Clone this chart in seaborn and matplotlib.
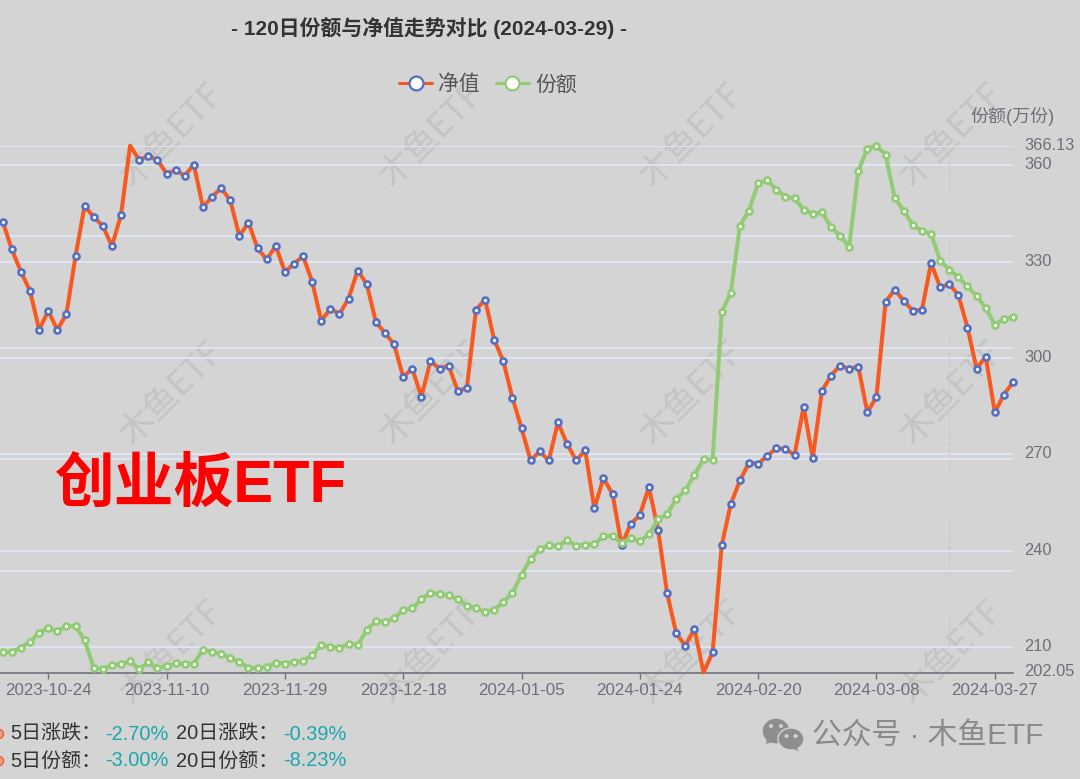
import matplotlib

matplotlib.use('Agg')

import matplotlib.pyplot as plt
from matplotlib.lines import Line2D
from matplotlib.patches import Ellipse, Polygon
from matplotlib.transforms import ScaledTranslation
import seaborn as sns
import pandas as pd

sns.set_theme(style='white')
plt.rcParams['font.family'] = ['Liberation Sans', 'Noto Sans CJK SC', 'DejaVu Sans']

BG = '#d4d4d4'
ORANGE = '#f65a20'
BLUE = '#5470c6'
GREEN = '#91cc75'
AXIS_GREY = '#6e7079'
GRID = '#e0e6f1'
W, H = 1080, 779

nav = [1.913, 1.888, 1.868, 1.851, 1.816, 1.833, 1.816, 1.830, 1.882, 1.927,
       1.917, 1.909, 1.891, 1.919, 1.981, 1.968, 1.972, 1.968, 1.956, 1.959,
       1.954, 1.964, 1.926, 1.935, 1.943, 1.932, 1.900, 1.912, 1.889, 1.879,
       1.891, 1.868, 1.875, 1.882, 1.859, 1.824, 1.835, 1.830, 1.844, 1.869,
       1.857, 1.823, 1.813, 1.803, 1.774, 1.781, 1.756, 1.788, 1.781, 1.784,
       1.761, 1.764, 1.834, 1.843, 1.807, 1.788, 1.755, 1.728, 1.699, 1.707,
       1.699, 1.733, 1.714, 1.699, 1.708, 1.656, 1.683, 1.669, 1.623, 1.642,
       1.650, 1.675, 1.637, 1.580, 1.544, 1.533, 1.548, 1.509, 1.527, 1.623,
       1.660, 1.681, 1.697, 1.696, 1.703, 1.710, 1.709, 1.704, 1.747, 1.701,
       1.761, 1.775, 1.784, 1.781, 1.783, 1.742, 1.756, 1.841, 1.852, 1.842,
       1.833, 1.834, 1.876, 1.854, 1.857, 1.847, 1.818, 1.781, 1.792, 1.742,
       1.758, 1.769]

share = [208.5, 208.5, 209.8, 211.6, 214.4, 215.9, 214.9, 216.5, 216.5, 212.1,
         203.5, 203.1, 204.3, 204.7, 205.5, 203.1, 205.3, 203.5, 204.0, 204.9,
         204.8, 204.8, 209.1, 208.4, 207.8, 206.7, 205.3, 203.5, 203.5, 203.7,
         205.1, 204.8, 205.4, 205.7, 207.4, 210.7, 210.0, 209.7, 211.0, 210.6,
         215.3, 218.1, 217.9, 218.9, 221.5, 222.0, 224.8, 226.9, 226.4, 226.1,
         224.8, 222.8, 222.1, 220.9, 221.6, 224.0, 226.9, 232.5, 237.5, 240.4,
         241.7, 241.4, 243.2, 241.5, 241.9, 242.0, 244.5, 244.6, 242.4, 243.8,
         242.9, 245.1, 249.7, 251.4, 256.1, 258.8, 263.6, 268.4, 268.3, 314.3,
         320.3, 341.2, 345.9, 354.5, 355.3, 352.4, 350.2, 349.7, 346.2, 344.9,
         345.4, 340.8, 338.1, 334.6, 358.2, 365.2, 366.13, 363.3, 349.9, 345.8,
         341.4, 339.5, 338.7, 330.3, 327.5, 325.1, 322.3, 319.3, 315.6, 310.3,
         312.2, 312.7]

date_ticks = [5, 18, 31, 44, 57, 70, 83, 96, 109]
date_labels = ['2023-10-24', '2023-11-10', '2023-11-29', '2023-12-18', '2024-01-05',
               '2024-01-24', '2024-02-20', '2024-03-08', '2024-03-27']
share_ticks = [202.05, 210, 240, 270, 300, 330, 360, 366.13]
share_labels = ['202.05', '210', '240', '270', '300', '330', '360', '366.13']
nav_ticks = [1.6, 1.7, 1.8, 1.9, 1.981]
nav_range = (1.509, 1.981)
share_range = (202.05, 366.13)
hidden_nav_marks = [14, 77]  # the extreme points show no symbol
stat_names = [['5日涨跌：', '20日涨跌：'], ['5日份额：', '20日份额：']]
stat_values = [['-2.70%', '-0.39%'], ['-3.00%', '-8.23%']]

df = pd.DataFrame({'idx': range(len(nav)), 'nav': nav, 'share': share})


def px_text(x, y, s, **kw):
    kw.setdefault('va', 'center')
    return fig.text(x / W, 1 - y / H, s, **kw)


fig = plt.figure(figsize=(W / 100, H / 100), dpi=100, facecolor=BG)
ax_base = fig.add_axes([0, 1 - 672.5 / H, 1013 / W, (672.5 - 145.6) / H])  # grid + labels
ax = ax_base.twinx()  # nav
ax2 = ax_base.twinx()  # share line on top
ax_base.set_zorder(0)
ax.set_zorder(1)
ax2.set_zorder(2)
for a in (ax_base, ax, ax2):
    a.patch.set_visible(False)

# watermark behind everything
for wy in [135, 393, 652]:
    for wx in [172, 432, 692, 952]:
        px_text(wx, wy, '木鱼ETF', fontsize=25, color='#c4c4c4', rotation=45,
                ha='center', rotation_mode='anchor', zorder=-1,
                family=['Noto Sans CJK SC', 'DejaVu Sans'], fontweight='light')

nav_marks = [i for i in df['idx'] if i not in hidden_nav_marks]
sns.lineplot(data=df, x='idx', y='nav', ax=ax, color=ORANGE, lw=2.9, marker='o', ms=4.3,
             mfc='white', mec=BLUE, mew=1.9, zorder=3, legend=False, estimator=None,
             clip_on=False, markevery=nav_marks)
sns.lineplot(data=df, x='idx', y='share', ax=ax2, color=GREEN, lw=2.9, marker='o', ms=4.3,
             mfc='white', mec=GREEN, mew=1.9, zorder=3, legend=False, estimator=None,
             clip_on=False)

for a in (ax_base, ax, ax2):
    a.set_xlim(-0.297, 111)
    a.set_xlabel('')
    a.set_ylabel('')
    for side in ['top', 'left', 'right', 'bottom']:
        a.spines[side].set_visible(False)
    a.tick_params(axis='both', left=False, right=False, bottom=False,
                  labelleft=False, labelright=False, labelbottom=False)
    a.grid(False)

ax.set_ylim(*nav_range)
ax2.set_ylim(*share_range)
ax_base.set_ylim(*share_range)

ax.set_yticks(nav_ticks)
ax.grid(axis='y', color=GRID, lw=1.4)
ax.set_axisbelow(True)
ax2.set_yticks(share_ticks)

ax_base.set_yticks(share_ticks, share_labels)
ax_base.yaxis.tick_right()
ax_base.tick_params(axis='y', right=False, labelright=True, labelleft=False, length=0,
                    labelcolor=AXIS_GREY, labelsize=11.8, pad=8)
ax_base.grid(axis='y', color=GRID, lw=1.4)
ax_base.set_axisbelow(True)
# labels sit a little above their grid lines
lift = ScaledTranslation(0, 2 / 100, fig.dpi_scale_trans)
for lab in ax_base.get_yticklabels():
    lab.set_transform(lab.get_transform() + lift)

ax_base.set_xticks(date_ticks, date_labels)
ax_base.tick_params(axis='x', bottom=True, labelbottom=True, length=4, width=1, color=AXIS_GREY,
                    labelcolor=AXIS_GREY, labelsize=12.2, pad=3.5)
ax_base.spines['bottom'].set_visible(True)
ax_base.spines['bottom'].set_color(AXIS_GREY)
ax_base.spines['bottom'].set_linewidth(1.2)

ax_base.axvline(104, color='#c3c8d6', lw=0.9, ls=(0, (4, 3)), zorder=2)

px_text(429, 28, '- 120日份额与净值走势对比 (2024-03-29) -', fontsize=15, fontweight='bold',
        color='#333333', ha='center')
px_text(1055, 116, '份额(万份)', fontsize=13, color=AXIS_GREY, ha='right')

handles = [Line2D([], [], color=ORANGE, lw=2.2, marker='o', ms=10, mfc='white', mec=BLUE, mew=1.6),
           Line2D([], [], color=GREEN, lw=2.2, marker='o', ms=10, mfc='white', mec=GREEN, mew=1.6)]
fig.legend(handles, ['净值', '份额'], loc='center', bbox_to_anchor=(488 / W, 1 - 84.5 / H), ncol=2,
           frameon=False, fontsize=15, labelcolor='#555555', handlelength=1.6,
           handletextpad=0.3, columnspacing=0.75)

px_text(55, 485, '创业板ETF', fontsize=43, fontweight='bold', color='#ff0000', ha='left')

# stats block at bottom left
for row, sy in enumerate([734, 761]):
    fig.add_artist(Ellipse((-1 / W, 1 - sy / H), 9 / W, 9 / H, transform=fig.transFigure,
                           fc='#e8a58c', ec=ORANGE, lw=1))
    for col, (nx, vx) in enumerate([(10, 105), (176, 283)]):
        px_text(nx, sy, stat_names[row][col], fontsize=14.4, color='#333333', ha='left')
        px_text(vx, sy, stat_values[row][col], fontsize=14.4, color='#1ba7ab', ha='left')

# wechat mark
icon = '#8e8e8e'


def bubble(cx, cy, rx, ry, tail):
    fig.add_artist(Ellipse((cx / W, 1 - cy / H), 2 * rx / W, 2 * ry / H, transform=fig.transFigure,
                           fc=icon, ec=BG, lw=1))
    fig.add_artist(Polygon([(p[0] / W, 1 - p[1] / H) for p in tail], transform=fig.transFigure,
                           fc=icon, ec='none'))


def dots(cx, cy, dx):
    for sx in (-dx, dx):
        fig.add_artist(Ellipse(((cx + sx) / W, 1 - cy / H), 4 / W, 4 / H, transform=fig.transFigure,
                               fc=BG, ec='none'))


bubble(776, 731, 14, 13, [(767, 738), (766, 744), (775, 741)])
dots(776, 726, 5)
bubble(791, 739, 13, 11, [(796, 746), (799, 751), (790, 748)])
dots(791, 736, 4.5)

px_text(812, 736, '公众号 · 木鱼ETF', fontsize=21.4, color='#8a8a8a', ha='left')

fig.savefig('out.png', dpi=100, facecolor=BG)
